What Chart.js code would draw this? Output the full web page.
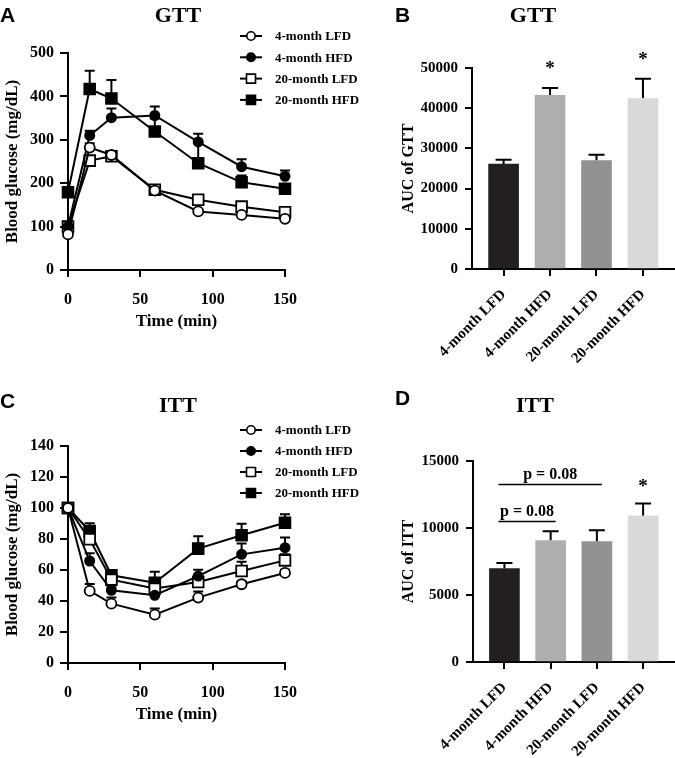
<!DOCTYPE html>
<html>
<head>
<meta charset="utf-8">
<script src="https://cdn.jsdelivr.net/npm/chart.js@4"></script>
<style>
  body { margin: 0; background: #fff; }
  #wrap { position: relative; width: 675px; height: 758px; overflow: hidden; }
  .panel { position: absolute; }
</style>
</head>
<body>
<div id="wrap">
  <div class="panel" style="left:0;top:0;width:380px;height:380px"><canvas id="gttLine"></canvas></div>
  <div class="panel" style="left:340px;top:0;width:335px;height:380px"><canvas id="gttAuc"></canvas></div>
  <div class="panel" style="left:0;top:380px;width:380px;height:378px"><canvas id="ittLine"></canvas></div>
  <div class="panel" style="left:340px;top:380px;width:335px;height:378px"><canvas id="ittAuc"></canvas></div>
</div>
<script>
// ---- data ----
const times  = [0, 15, 30, 60, 90, 120, 150];
const groups = ["4-month LFD", "4-month HFD", "20-month LFD", "20-month HFD"];

// GTT, blood glucose (mg/dL), mean and upper SEM
const gttLfd4     = [82, 282, 265, 183, 135, 127, 118];
const gttHfd4     = [100, 310, 351, 356, 295, 238, 216];
const gttLfd20    = [100, 252, 262, 185, 162, 146, 133];
const gttHfd20    = [179, 417, 395, 319, 246, 202, 187];
const gttLfd4Err  = [3, 10, 8, 6, 5, 5, 5];
const gttHfd4Err  = [4, 11, 21, 21, 19, 17, 13];
const gttLfd20Err = [4, 8, 10, 6, 6, 5, 5];
const gttHfd20Err = [6, 42, 43, 30, 48, 16, 8];

// ITT, blood glucose (% of baseline)
const ittLfd4     = [100, 46.5, 38.3, 31.2, 42.2, 50.8, 58.1];
const ittHfd4     = [100, 65.8, 46.9, 43.7, 56.1, 70.1, 74.4];
const ittLfd20    = [100, 79.8, 53.8, 48.0, 52.3, 59.4, 66.2];
const ittHfd20    = [100, 85.2, 56.6, 51.8, 73.8, 82.4, 90.5];
const ittLfd4Err  = [0, 4.5, 4, 4, 4, 2, 2];
const ittHfd4Err  = [0, 5, 2, 2, 4, 7, 6.5];
const ittLfd20Err = [0, 5, 3, 3, 4, 6, 4];
const ittHfd20Err = [0, 5, 2, 7, 8, 7.5, 5.4];

// AUC bars
const aucGtt     = [26100, 43200, 27000, 42400];
const aucGttErr  = [1100, 1850, 1400, 4900];
const aucGttStar = [false, true, false, true];
const aucItt     = [6970, 9060, 8980, 10900];
const aucIttErr  = [420, 690, 850, 920];
const aucIttStar = [false, false, false, true];
// comparisons: group index from/to, height in AUC units
const ittBrackets = [
  { from: 0, to: 2, y: 13250, label: "p = 0.08" },
  { from: 0, to: 1, y: 10500, label: "p = 0.08" },
];

// ---- styling ----
const SERIF = "'Liberation Serif', 'Times New Roman', serif";
const SANS  = "'Liberation Sans', Arial, sans-serif";
const barColors = ["#231f20", "#aeaeae", "#929292", "#d9d9d9"];
const markers = [
  { pointStyle: "circle", pointRadius: 5,   pointBackgroundColor: "#fff" },
  { pointStyle: "circle", pointRadius: 4.6, pointBackgroundColor: "#000" },
  { pointStyle: "rect",   pointRadius: 7.6, pointBackgroundColor: "#fff" },
  { pointStyle: "rect",   pointRadius: 7.6, pointBackgroundColor: "#000" },
];

function drawMarker(ctx, style, fill, x, y) {
  ctx.save();
  ctx.fillStyle = fill;
  ctx.strokeStyle = "#000";
  ctx.lineWidth = 1.6;
  ctx.beginPath();
  if (style === "circle") ctx.arc(x, y, 4.2, 0, Math.PI * 2);
  else ctx.rect(x - 4.5, y - 4.5, 9, 9);
  ctx.fill();
  ctx.stroke();
  ctx.restore();
}

// error bars, stars, brackets, legend, panel letters and titles
const panelDecor = {
  id: "panelDecor",
  beforeDatasetsDraw(chart, args, o) {
    const ctx = chart.ctx;
    const ys = chart.scales.y;
    chart.data.datasets.forEach((ds, i) => {
      if (!ds.errors) return;
      const meta = chart.getDatasetMeta(i);
      ctx.save();
      ctx.strokeStyle = "#000";
      ctx.lineWidth = 2;
      meta.data.forEach((el, j) => {
        const e = ds.errors[j];
        if (!e) return;
        const v = ds.data[j].y;
        const y0 = ys.getPixelForValue(v);
        const y1 = ys.getPixelForValue(v + e);
        ctx.beginPath();
        ctx.moveTo(el.x, y0);
        ctx.lineTo(el.x, y1);
        ctx.moveTo(el.x - o.capHalf, y1);
        ctx.lineTo(el.x + o.capHalf, y1);
        ctx.stroke();
      });
      ctx.restore();
    });
  },
  afterDraw(chart, args, o) {
    const ctx = chart.ctx;
    const xs = chart.scales.x, ys = chart.scales.y;
    ctx.save();
    ctx.fillStyle = "#000";
    ctx.textBaseline = "alphabetic";

    ctx.font = "bold 21px " + SANS;
    ctx.textAlign = "left";
    ctx.fillText(o.letter, o.letterPos[0], o.letterPos[1]);

    ctx.font = "bold 22px " + SERIF;
    ctx.textAlign = "center";
    ctx.fillText(o.title, o.titlePos[0], o.titlePos[1]);

    chart.data.datasets.forEach((ds, i) => {
      if (!ds.stars) return;
      const meta = chart.getDatasetMeta(i);
      ctx.font = "bold 19px " + SERIF;
      ctx.textAlign = "center";
      meta.data.forEach((el, j) => {
        if (!ds.stars[j]) return;
        const top = ys.getPixelForValue(ds.data[j].y + ds.errors[j]);
        ctx.fillText("*", el.x, top - o.starGap);
      });
    });

    (o.brackets || []).forEach(b => {
      const x0 = xs.getPixelForValue(b.from + 1) - 6;
      const x1 = xs.getPixelForValue(b.to + 1) + 5;
      const y = Math.round(ys.getPixelForValue(b.y)) + 0.5;
      ctx.strokeStyle = "#000";
      ctx.lineWidth = 1.6;
      ctx.beginPath();
      ctx.moveTo(x0, y);
      ctx.lineTo(x1, y);
      ctx.stroke();
      ctx.font = "bold 16px " + SERIF;
      ctx.textAlign = "center";
      ctx.fillText(b.label, (x0 + x1) / 2, y - 6);
    });

    if (o.legend) {
      const L = o.legend;
      ctx.font = "bold 13px " + SERIF;
      ctx.textAlign = "left";
      ctx.textBaseline = "middle";
      chart.data.datasets.forEach((ds, i) => {
        const y = L.y + i * L.gap;
        ctx.strokeStyle = "#000";
        ctx.lineWidth = 2;
        ctx.beginPath();
        ctx.moveTo(L.x, y);
        ctx.lineTo(L.x + 22, y);
        ctx.stroke();
        drawMarker(ctx, ds.pointStyle, ds.pointBackgroundColor, L.x + 11, y);
        ctx.fillStyle = "#000";
        ctx.fillText(ds.label, L.x + 35, y + 1);
      });
    }
    ctx.restore();
  },
};
Chart.register(panelDecor);

function axisCommon(tickSize, tickLen, pad) {
  return {
    ticks: { color: "#000", font: { family: SERIF, size: tickSize, weight: "bold" }, padding: pad, callback: v => String(v) },
    grid: { drawOnChartArea: false, drawTicks: true, tickLength: tickLen, color: "#000", lineWidth: 2, offset: false },
    border: { display: true, color: "#000", width: 2 },
  };
}

function lineChart(id, vals, errs, yMax, yStep, yTitle, cfg) {
  const datasets = vals.map((v, i) => ({
    label: groups[i],
    data: times.map((t, j) => ({ x: t, y: v[j] })),
    errors: errs[i],
    borderColor: "#000",
    borderWidth: 2,
    pointBorderColor: "#000",
    pointBorderWidth: 1.8,
    clip: false,
    ...markers[i],
  }));
  const xAxis = axisCommon(16, 7, 13);
  const yAxis = axisCommon(16, 8, 6);
  new Chart(document.getElementById(id), {
    type: "line",
    data: { datasets },
    options: {
      responsive: true,
      maintainAspectRatio: false,
      animation: false,
      layout: { padding: cfg.padding },
      plugins: { legend: { display: false }, tooltip: { enabled: false }, panelDecor: cfg.decor },
      scales: {
        x: {
          ...xAxis, type: "linear", min: 0, max: 150,
          ticks: { ...xAxis.ticks, stepSize: 50 },
          title: { display: true, text: "Time (min)", color: "#000", font: { family: SERIF, size: 17, weight: "bold" }, padding: { top: 0, bottom: 0 } },
          afterFit: s => { s.height = cfg.xH; },
        },
        y: {
          ...yAxis, min: 0, max: yMax,
          ticks: { ...yAxis.ticks, stepSize: yStep },
          title: { display: true, text: yTitle, color: "#000", font: { family: SERIF, size: 17, weight: "bold" }, padding: { top: 2, bottom: 0 } },
          afterFit: s => { s.width = cfg.yW; },
        },
      },
    },
  });
}

function aucChart(id, vals, errs, stars, yMax, yStep, yTitle, cfg) {
  const xAxis = axisCommon(15, 7, 10);
  const yAxis = axisCommon(15, 7, 7);
  new Chart(document.getElementById(id), {
    type: "bar",
    data: {
      datasets: [{
        data: vals.map((v, i) => ({ x: i + 1, y: v })),
        errors: errs,
        stars: stars,
        backgroundColor: barColors,
        borderWidth: 0,
        barThickness: 30,
      }],
    },
    options: {
      responsive: true,
      maintainAspectRatio: false,
      animation: false,
      layout: { padding: cfg.padding },
      plugins: { legend: { display: false }, tooltip: { enabled: false }, panelDecor: cfg.decor },
      scales: {
        x: {
          ...xAxis, type: "linear", offset: false, min: 0.32, max: 4.69,
          afterBuildTicks: s => { s.ticks = groups.map((g, i) => ({ value: i + 1 })); },
          ticks: { ...xAxis.ticks, autoSkip: false, minRotation: 45, maxRotation: 45, callback: (v, i) => groups[i] },
          afterFit: s => { s.height = cfg.xH; },
        },
        y: {
          ...yAxis, min: 0, max: yMax,
          ticks: { ...yAxis.ticks, stepSize: yStep },
          title: { display: true, text: yTitle, color: "#000", font: { family: SERIF, size: 16, weight: "bold" }, padding: { top: 4, bottom: 0 } },
          afterFit: s => { s.width = cfg.yW; },
        },
      },
    },
  });
}

lineChart("gttLine",
  [gttLfd4, gttHfd4, gttLfd20, gttHfd20],
  [gttLfd4Err, gttHfd4Err, gttLfd20Err, gttHfd20Err],
  500, 100, "Blood glucose (mg/dL)",
  { padding: { top: 53, right: 95, bottom: 48, left: 0 }, xH: 62, yW: 68,
    decor: { letter: "A", letterPos: [0, 22], title: "GTT", titlePos: [178, 22], capHalf: 5,
             legend: { x: 240, y: 36, gap: 21.3 } } });

aucChart("gttAuc", aucGtt, aucGttErr, aucGttStar, 50000, 10000, "AUC of GTT",
  { padding: { top: 68, right: 0, bottom: 0, left: 55 }, xH: 111, yW: 77,
    decor: { letter: "B", letterPos: [55, 22], title: "GTT", titlePos: [193, 22], capHalf: 8, starGap: 14 } });

lineChart("ittLine",
  [ittLfd4, ittHfd4, ittLfd20, ittHfd20],
  [ittLfd4Err, ittHfd4Err, ittLfd20Err, ittHfd20Err],
  140, 20, "Blood glucose (mg/dL)",
  { padding: { top: 66, right: 95, bottom: 33, left: 0 }, xH: 62, yW: 68,
    decor: { letter: "C", letterPos: [0, 28], title: "ITT", titlePos: [178, 32], capHalf: 5,
             legend: { x: 240, y: 50, gap: 21 } } });

aucChart("ittAuc", aucItt, aucIttErr, aucIttStar, 15000, 5000, "AUC of ITT",
  { padding: { top: 81, right: 0, bottom: 0, left: 55 }, xH: 96, yW: 78,
    decor: { letter: "D", letterPos: [55, 25], title: "ITT", titlePos: [195, 32], capHalf: 8, starGap: 12,
             brackets: ittBrackets } });
</script>
</body>
</html>
